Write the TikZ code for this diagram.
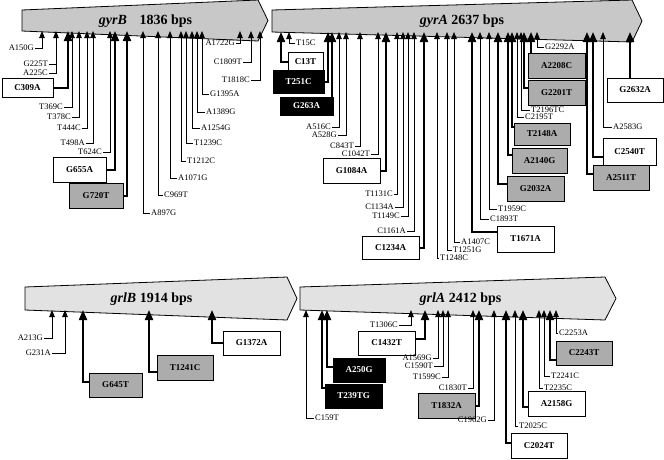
\documentclass[tikz,border=0pt]{standalone}
\usepackage{fontspec}
\setmainfont{Liberation Serif}
\usetikzlibrary{arrows.meta}
\definecolor{gyrfill}{RGB}{200,200,200}
\definecolor{grlfill}{RGB}{226,226,226}
\definecolor{boxgray}{RGB}{172,172,172}
\tikzset{
  genebody/.style={inner sep=0pt, outer sep=0pt},
  geneline/.style={draw=black, line width=0.8pt},
  genename/.style={font=\fontsize{14}{16}\selectfont\bfseries, inner sep=0pt},
  thinmut/.style={line width=0.8pt, -{Triangle[length=7pt,width=5.5pt]}},
  thickmut/.style={line width=2pt, -{Triangle[length=10pt,width=8pt]}},
  lbl/.style={font=\fontsize{8.5}{9}\selectfont, inner sep=1pt},
  mutbox/.style={draw, line width=1pt, font=\fontsize{9}{10}\selectfont\bfseries,
    minimum width=57pt, minimum height=25pt, inner sep=0pt},
  whitebox/.style={mutbox, fill=white},
  graybox/.style={mutbox, fill=boxgray},
  blackbox/.style={mutbox, fill=black, text=white}
}
\begin{document}
\begin{tikzpicture}[x=1pt,y=-1pt]
    \useasboundingbox (0,0) rectangle (664,459);

    % genes
    \node[genebody, minimum width=236pt, minimum height=21pt] (gyrB) at (140,20.5) {};
    \node[genebody, minimum width=360pt, minimum height=22pt] (gyrA) at (452,21) {};
    \node[genebody, minimum width=262pt, minimum height=23pt] (grlB) at (156,298.5) {};
    \node[genebody, minimum width=305pt, minimum height=23pt] (grlA) at (452.5,298.5) {};

    \draw[geneline, fill=gyrfill] (gyrB.south west) -- (gyrB.north west) -- ([yshift=10pt]gyrB.north east)
        -- ([xshift=10pt]gyrB.east) -- ([yshift=-10pt]gyrB.south east) -- cycle;
    \draw[geneline, fill=gyrfill] (gyrA.south west) -- (gyrA.north west) -- ([yshift=10pt]gyrA.north east)
        -- ([xshift=10pt]gyrA.east) -- ([yshift=-10pt]gyrA.south east) -- cycle;
    \draw[geneline, fill=grlfill] (grlB.south west) -- (grlB.north west) -- ([yshift=10pt]grlB.north east)
        -- ([xshift=10pt]grlB.east) -- ([yshift=-10pt]grlB.south east) -- cycle;
    \draw[geneline, fill=grlfill] (grlA.south west) -- (grlA.north west) -- ([yshift=10pt]grlA.north east)
        -- ([xshift=11pt]grlA.east) -- ([yshift=-10pt]grlA.south east) -- cycle;

    \node[genename] (gyrBname) at (145.5,21) {\textit{gyrB}\hspace{0.9em}1836 bps};
    \node[genename] (gyrAname) at (462,21) {\textit{gyrA} 2637 bps};
    \node[genename] (grlBname) at (151.5,299) {\textit{grlB} 1914 bps};
    \node[genename] (grlAname) at (460.5,299) {\textit{grlA} 2412 bps};

    % gyrB mutations
    \node[lbl, anchor=east] (A150G) at (35,48) {A150G};
    \node[lbl, anchor=east] (G225T) at (49,64) {G225T};
    \node[lbl, anchor=east] (A225C) at (49,73) {A225C};
    \node[whitebox, minimum width=51pt, minimum height=19pt] (C309A) at (27.5,87.5) {C309A};
    \node[lbl, anchor=east] (T369C) at (64,107) {T369C};
    \node[lbl, anchor=east] (T378C) at (72,117) {T378C};
    \node[lbl, anchor=east] (T444C) at (82,128) {T444C};
    \node[lbl, anchor=east] (T498A) at (86,143) {T498A};
    \node[lbl, anchor=east] (T624C) at (103,152) {T624C};
    \node[whitebox, minimum width=53pt] (G655A) at (79.5,169.5) {G655A};
    \node[graybox, minimum width=54pt] (G720T) at (96,195.5) {G720T};
    \node[lbl, anchor=west] (A897G) at (150,213) {A897G};
    \node[lbl, anchor=west] (C969T) at (163,195) {C969T};
    \node[lbl, anchor=west] (A1071G) at (177,178) {A1071G};
    \node[lbl, anchor=west] (T1212C) at (186,161) {T1212C};
    \node[lbl, anchor=west] (T1239C) at (193,143) {T1239C};
    \node[lbl, anchor=west] (A1254G) at (200,128) {A1254G};
    \node[lbl, anchor=west] (A1389G) at (205,112) {A1389G};
    \node[lbl, anchor=west] (G1395A) at (209,94) {G1395A};
    \node[lbl, anchor=east] (A1722G) at (236,43) {A1722G};
    \node[lbl, anchor=east] (C1809T) at (243,62) {C1809T};
    \node[lbl, anchor=east] (T1818C) at (251,80) {T1818C};

    \draw[thinmut] (A150G.east) -| (42,0 |- gyrB.south);
    \draw[line width=0.8pt] (G225T.east) -- ++(7,0);
    \draw[thinmut] (A225C.east) -| (56,0 |- gyrB.south);
    \draw[thickmut] (C309A.east) -| (68,0 |- gyrB.south);
    \draw[thinmut] (T369C.east) -| (72,0 |- gyrB.south);
    \draw[thinmut] (T378C.east) -| (79,0 |- gyrB.south);
    \draw[thinmut] (T444C.east) -| (87,0 |- gyrB.south);
    \draw[thinmut] (T498A.east) -| (93,0 |- gyrB.south);
    \draw[thinmut] (T624C.east) -| (110,0 |- gyrB.south);
    \draw[thickmut] (G655A.east) -| (115,0 |- gyrB.south);
    \draw[thickmut] (G720T.east) -| (127,0 |- gyrB.south);
    \draw[thinmut] (A897G.west) -| (143,0 |- gyrB.south);
    \draw[thinmut] (C969T.west) -| (158,0 |- gyrB.south);
    \draw[thinmut] (A1071G.west) -| (170,0 |- gyrB.south);
    \draw[thinmut] (T1212C.west) -| (181,0 |- gyrB.south);
    \draw[thinmut] (T1239C.west) -| (186,0 |- gyrB.south);
    \draw[thinmut] (A1254G.west) -| (192,0 |- gyrB.south);
    \draw[thinmut] (A1389G.west) -| (197,0 |- gyrB.south);
    \draw[thinmut] (G1395A.west) -| (202,0 |- gyrB.south);
    \draw[thinmut] (A1722G.east) -| (240,0 |- gyrB.south);
    \draw[thinmut] (C1809T.east) -| (251,0 |- gyrB.south);
    \draw[thinmut] (T1818C.east) -| (260,0 |- gyrB.south);

    % gyrA mutations
    \node[whitebox, minimum width=35pt, minimum height=20pt] (C13T) at (305.5,62) {C13T};
    \node[lbl, anchor=west] (T15C) at (295,43) {T15C};
    \node[blackbox, minimum width=51pt, minimum height=23pt] (T251C) at (298.5,81.5) {T251C};
    \node[blackbox, minimum width=53pt, minimum height=18pt] (G263A) at (306.5,106) {G263A};
    \node[lbl, anchor=east] (A516C) at (332,127) {A516C};
    \node[lbl, anchor=east] (A528G) at (338,135) {A528G};
    \node[lbl, anchor=east] (C843T) at (355,146) {C843T};
    \node[lbl, anchor=east] (C1042T) at (371,154) {C1042T};
    \node[whitebox] (G1084A) at (351.5,170.5) {G1084A};
    \node[lbl, anchor=east] (T1131C) at (394,194) {T1131C};
    \node[lbl, anchor=east] (C1134A) at (395,207) {C1134A};
    \node[lbl, anchor=east] (T1149C) at (401,216) {T1149C};
    \node[lbl, anchor=east] (C1161A) at (407,231) {C1161A};
    \node[whitebox, minimum height=23pt] (C1234A) at (390.5,247.5) {C1234A};
    \node[lbl, anchor=west] (T1248C) at (439,258) {T1248C};
    \node[lbl, anchor=west] (T1251G) at (452,250) {T1251G};
    \node[lbl, anchor=west] (A1407C) at (460,242) {A1407C};
    \node[whitebox, minimum height=26pt] (T1671A) at (525.5,239) {T1671A};
    \node[lbl, anchor=west] (C1893T) at (489,219) {C1893T};
    \node[lbl, anchor=west] (T1959C) at (497,209) {T1959C};
    \node[graybox] (G2032A) at (535.5,188.5) {G2032A};
    \node[graybox, minimum width=55pt] (A2140G) at (539.5,160.5) {A2140G};
    \node[graybox, minimum width=56pt, minimum height=22pt] (T2148A) at (542,134) {T2148A};
    \node[lbl, anchor=west] (C2195T) at (524,117) {C2195T};
    \node[lbl, anchor=west] (T2196TC) at (530,110) {T2196TC};
    \node[graybox] (G2201T) at (556.5,92.5) {G2201T};
    \node[graybox] (A2208C) at (556.5,65.5) {A2208C};
    \node[lbl, anchor=west] (G2292A) at (544,47) {G2292A};
    \node[whitebox, minimum width=56pt, minimum height=24pt] (G2632A) at (635,90) {G2632A};
    \node[lbl, anchor=west] (A2583G) at (612,127) {A2583G};
    \node[whitebox, minimum width=53pt, minimum height=27pt] (C2540T) at (629.5,151.5) {C2540T};
    \node[graybox, minimum width=56pt] (A2511T) at (621,177.5) {A2511T};

    \draw[thickmut] (C13T.west) -| (281,0 |- gyrA.south);
    \draw[thinmut] (T15C.west) -| (289,0 |- gyrA.south);
    \draw[thickmut] (T251C.east) -| (328,0 |- gyrA.south);
    \draw[thickmut] (332,0 |- G263A.north) -- (332,0 |- gyrA.south);
    \draw[thinmut] (A516C.east) -| (339,0 |- gyrA.south);
    \draw[thinmut] (A528G.east) -| (346,0 |- gyrA.south);
    \draw[thinmut] (C843T.east) -| (360,0 |- gyrA.south);
    \draw[thinmut] (C1042T.east) -| (378,0 |- gyrA.south);
    \draw[thickmut] (G1084A.east) -| (386,0 |- gyrA.south);
    \draw[thinmut] (T1131C.east) -| (397,0 |- gyrA.south);
    \draw[thinmut] (C1134A.east) -| (403,0 |- gyrA.south);
    \draw[thinmut] (T1149C.east) -| (408,0 |- gyrA.south);
    \draw[thinmut] (C1161A.east) -| (414,0 |- gyrA.south);
    \draw[thickmut] (C1234A.east) -| (424,0 |- gyrA.south);
    \draw[thinmut] (T1248C.west) -| (437,0 |- gyrA.south);
    \draw[thinmut] (T1251G.west) -| (447,0 |- gyrA.south);
    \draw[thinmut] (A1407C.west) -| (454,0 |- gyrA.south);
    \draw[thickmut] ([yshift=7pt]T1671A.west) -| (472,0 |- gyrA.south);
    \draw[thinmut] (C1893T.west) -| (480,0 |- gyrA.south);
    \draw[thinmut] (T1959C.west) -| (489,0 |- gyrA.south);
    \draw[thickmut] ([yshift=5pt]G2032A.west) -| (498,0 |- gyrA.south);
    \draw[thickmut] ([yshift=6pt]A2140G.west) -| (508,0 |- gyrA.south);
    \draw[thickmut] ([yshift=7pt]T2148A.west) -| (512,0 |- gyrA.south);
    \draw[thinmut] (C2195T.west) -| (517,0 |- gyrA.south);
    \draw[thinmut] (T2196TC.west) -| (521,0 |- gyrA.south);
    \draw[thickmut] ([yshift=5pt]G2201T.west) -| (524,0 |- gyrA.south);
    \draw[thickmut] (531,0 |- A2208C.north) -- (531,0 |- gyrA.south);
    \draw[thinmut] (G2292A.west) -| (537,0 |- gyrA.south);
    \draw[thickmut] (630,0 |- G2632A.north) -- (630,0 |- gyrA.south);
    \draw[thinmut] (A2583G.west) -| (603,0 |- gyrA.south);
    \draw[thickmut] ([yshift=-5pt]C2540T.west) -| (593,0 |- gyrA.south);
    \draw[thickmut] ([yshift=4pt]A2511T.west) -| (587,0 |- gyrA.south);

    % grlB mutations
    \node[lbl, anchor=east] (A213G) at (44,338) {A213G};
    \node[lbl, anchor=east] (G231A) at (52,353) {G231A};
    \node[graybox, minimum width=53pt, minimum height=24pt] (G645T) at (115.5,385) {G645T};
    \node[graybox, minimum width=56pt] (T1241C) at (185,367.5) {T1241C};
    \node[whitebox, minimum height=24pt] (G1372A) at (251.5,343) {G1372A};

    \draw[thinmut] (A213G.east) -| (52,0 |- grlB.south);
    \draw[thinmut] (G231A.east) -| (65,0 |- grlB.south);
    \draw[thickmut] ([yshift=3pt]G645T.west) -| (83,0 |- grlB.south);
    \draw[thickmut] ([yshift=-4pt]T1241C.west) -| (149,0 |- grlB.south);
    \draw[thickmut] (G1372A.west) -| (212,0 |- grlB.south);

    % grlA mutations
    \node[lbl, anchor=west] (C159T) at (314,418) {C159T};
    \node[blackbox, minimum height=24pt] (T239TG) at (353.5,396) {T239TG};
    \node[blackbox, minimum width=52pt, minimum height=24pt] (A250G) at (359,370) {A250G};
    \node[lbl, anchor=east] (T1306C) at (399,325) {T1306C};
    \node[whitebox, minimum height=24pt] (C1432T) at (386.5,343) {C1432T};
    \node[lbl, anchor=east] (A1569G) at (433,358) {A1569G};
    \node[lbl, anchor=east] (C1590T) at (434,366) {C1590T};
    \node[lbl, anchor=east] (T1599C) at (442,377) {T1599C};
    \node[lbl, anchor=east] (C1830T) at (468,388) {C1830T};
    \node[graybox] (T1832A) at (446.5,405.5) {T1832A};
    \node[lbl, anchor=east] (C1962G) at (488,420) {C1962G};
    \node[whitebox, minimum width=56pt] (C2024T) at (539,445.5) {C2024T};
    \node[lbl, anchor=west] (T2025C) at (518,426) {T2025C};
    \node[whitebox] (A2158G) at (556.5,403.5) {A2158G};
    \node[lbl, anchor=west] (T2235C) at (543,388) {T2235C};
    \node[lbl, anchor=west] (T2241C) at (550,376) {T2241C};
    \node[graybox, minimum width=56pt, minimum height=24pt] (C2243T) at (584,353) {C2243T};
    \node[lbl, anchor=west] (C2253A) at (558,333) {C2253A};

    \draw[thinmut] (C159T.west) -| (306,0 |- grlA.south);
    \draw[thickmut] ([yshift=8pt]T239TG.west) -| (322,0 |- grlA.south);
    \draw[thickmut] ([yshift=3pt]A250G.west) -| (327,0 |- grlA.south);
    \draw[thinmut] (T1306C.east) -| (411,0 |- grlA.south);
    \draw[thickmut] ([yshift=4pt]C1432T.east) -| (425,0 |- grlA.south);
    \draw[thinmut] (A1569G.east) -| (438,0 |- grlA.south);
    \draw[thinmut] (C1590T.east) -| (443,0 |- grlA.south);
    \draw[thinmut] (T1599C.east) -| (448,0 |- grlA.south);
    \draw[thinmut] (C1830T.east) -| (473,0 |- grlA.south);
    \draw[thickmut] (T1832A.east) -| (479,0 |- grlA.south);
    \draw[thinmut] (C1962G.east) -| (494,0 |- grlA.south);
    \draw[thickmut] ([yshift=3pt]C2024T.west) -| (506,0 |- grlA.south);
    \draw[thinmut] (T2025C.west) -| (515,0 |- grlA.south);
    \draw[thickmut] ([yshift=-3pt]A2158G.west) -| (523,0 |- grlA.south);
    \draw[thinmut] (T2235C.west) -| (539,0 |- grlA.south);
    \draw[thinmut] (T2241C.west) -| (544,0 |- grlA.south);
    \draw[thickmut] ([yshift=-7pt]C2243T.west) -| (550,0 |- grlA.south);
    \draw[thinmut] (C2253A.west) -| (556,0 |- grlA.south);
\end{tikzpicture}
\end{document}
